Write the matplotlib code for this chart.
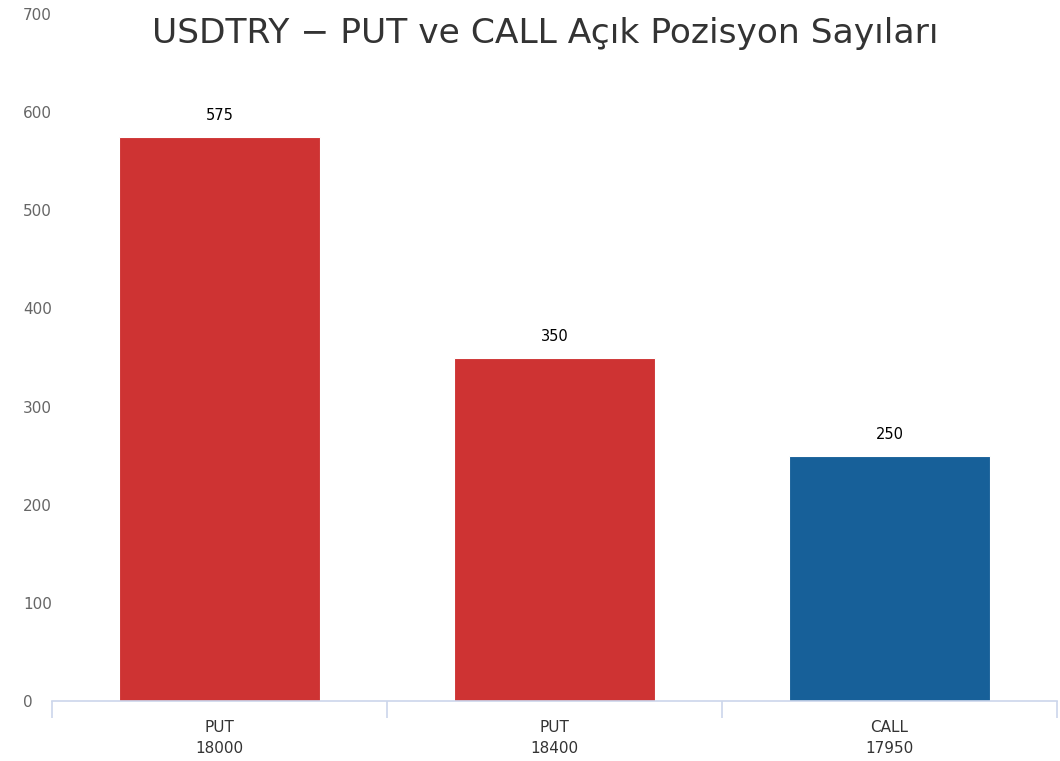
import numpy as np
import matplotlib
matplotlib.use("Agg")
import matplotlib.pyplot as plt

# data
categories = ["PUT\n18000", "PUT\n18400", "CALL\n17950"]
values = [575, 350, 250]
bar_colors = ["#ce3333", "#ce3333", "#176099"]
y_ticks = [0, 100, 200, 300, 400, 500, 600, 700]

title = "USDTRY − PUT ve CALL Açık Pozisyon Sayıları"

plt.rcParams["font.family"] = ["DejaVu Sans"]

fig = plt.figure(figsize=(10.6, 7.61), dpi=100)
ax = fig.add_axes([52 / 1060, 60 / 761, 1005 / 1060, 687 / 761])

x = np.arange(len(categories))
bars = ax.bar(x, values, width=0.6, color=bar_colors, edgecolor="white", linewidth=0.8)

for b, v in zip(bars, values):
    ax.annotate(str(v), (b.get_x() + b.get_width() / 2, v), xytext=(0, 10),
                textcoords="offset points", ha="center", va="bottom",
                fontsize=10.5, color="black")

ax.set_xlim(-0.5, len(categories) - 0.5)
ax.set_ylim(0, 700)

for s in ["top", "right", "left"]:
    ax.spines[s].set_visible(False)
ax.spines["bottom"].set_color("#ccd6eb")
ax.spines["bottom"].set_linewidth(1.2)

# category labels in the middle, ticks on the boundaries
ax.set_xticks(x)
ax.set_xticklabels(categories, fontsize=11, color="#333333", linespacing=1.45)
ax.tick_params(axis="x", which="major", length=0, pad=14)
ax.set_xticks(np.arange(len(categories) + 1) - 0.5, minor=True)
ax.tick_params(axis="x", which="minor", length=12, width=1.2, color="#ccd6eb")

ax.set_yticks(y_ticks)
ax.set_yticklabels([str(t) for t in y_ticks], fontsize=11, color="#666666")
ax.tick_params(axis="y", length=0, pad=21)
for lab in ax.get_yticklabels():
    lab.set_horizontalalignment("left")

fig.text(545 / 1060, 1 - 43 / 761, title, ha="center", va="baseline",
         fontsize=24.8, color="#333333")

fig.savefig("out.png", dpi=100)
